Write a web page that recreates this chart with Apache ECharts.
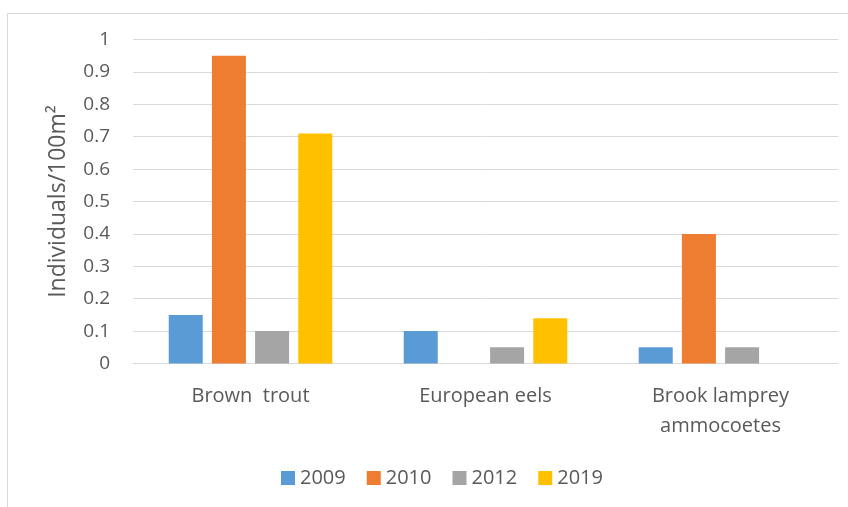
<!DOCTYPE html>
<html>
<head>
<meta charset="utf-8">
<script src="https://cdn.jsdelivr.net/npm/echarts@6/dist/echarts.min.js"></script>
<style>
  html, body { margin: 0; padding: 0; background: #ffffff; }
  #chart { width: 848px; height: 507px; }
</style>
</head>
<body>
<div id="chart"></div>
<script>
// Fish density by species and survey year
const categories = ['Brown  trout', 'European eels', 'Brook lamprey\nammocoetes'];
const years = ['2009', '2010', '2012', '2019'];
const values2009 = [0.15, 0.10, 0.05];
const values2010 = [0.95, null, 0.40];
const values2012 = [0.10, 0.05, 0.05];
const values2019 = [0.71, 0.14, null];
const yTicks = [0, 0.1, 0.2, 0.3, 0.4, 0.5, 0.6, 0.7, 0.8, 0.9, 1];

const colors = ['#5b9bd5', '#ed7d31', '#a5a5a5', '#ffc000'];
const seriesValues = [values2009, values2010, values2012, values2019];
const textColor = '#595959';
const fontFamily = '"Open Sans", "Liberation Sans", sans-serif';

const chart = echarts.init(document.getElementById('chart'), null, { renderer: 'canvas' });

chart.setOption({
  animation: false,
  color: colors,
  textStyle: { fontFamily: fontFamily },
  graphic: [{
    type: 'rect',
    left: 5, top: 11,
    shape: { width: 900, height: 600 },
    style: { fill: 'none', stroke: '#d9d9d9', lineWidth: 1 },
    silent: true
  }],
  grid: { left: 133, right: 10, top: 39.5, bottom: 143.5, containLabel: false },
  legend: {
    data: years,
    top: 463,
    left: 276,
    itemWidth: 14,
    itemHeight: 14,
    itemGap: 21,
    icon: 'rect',
    textStyle: { color: textColor, fontSize: 20, fontFamily: fontFamily }
  },
  xAxis: {
    type: 'category',
    data: categories,
    axisTick: { show: false },
    axisLine: { lineStyle: { color: '#d9d9d9', width: 1 } },
    axisLabel: { color: textColor, fontSize: 20, margin: 18, lineHeight: 30, fontFamily: fontFamily }
  },
  yAxis: {
    type: 'value',
    min: 0, max: 1, interval: 0.1,
    name: 'Individuals/100m²',
    nameLocation: 'middle',
    nameGap: 63,
    nameTextStyle: { color: textColor, fontSize: 23, fontFamily: fontFamily },
    axisLine: { show: false },
    axisTick: { show: false },
    axisLabel: {
      color: textColor, fontSize: 19, margin: 23, fontFamily: fontFamily,
      formatter: function (v) {
        const t = yTicks.find(function (k) { return Math.abs(k - v) < 1e-9; });
        return t === undefined ? '' : String(t);
      }
    },
    splitLine: { lineStyle: { color: '#d9d9d9', width: 1 } }
  },
  series: years.map(function (y, i) {
    return {
      name: y,
      type: 'bar',
      data: seriesValues[i],
      barWidth: 34,
      barGap: '27%',
      itemStyle: { color: colors[i] }
    };
  })
});
</script>
</body>
</html>
